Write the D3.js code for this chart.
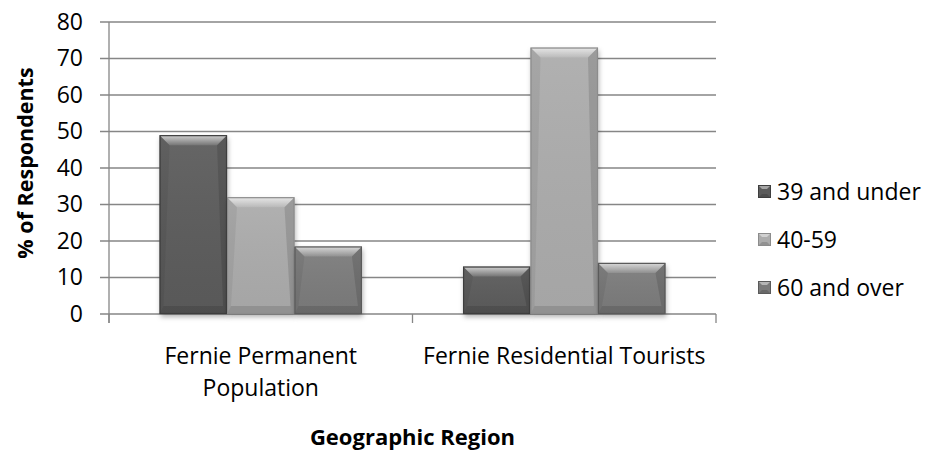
<!DOCTYPE html>
<html>
<head>
<meta charset="utf-8">
<script src="https://cdnjs.cloudflare.com/ajax/libs/d3/7.8.5/d3.min.js"></script>
<style>
  body { margin: 0; background: #fff; }
  svg text { font-family: "Open Sans", sans-serif; fill: #000; }
  .axis path { display: none; }
  .axis line { stroke: #868686; stroke-width: 1.3; }
</style>
</head>
<body>
<div id="chart"></div>
<script>
// data
var regions = ["Fernie Permanent Population", "Fernie Residential Tourists"];
var regionLines = [["Fernie Permanent", "Population"], ["Fernie Residential Tourists"]];
var ageGroups = ["39 and under", "40-59", "60 and over"];
var permanent = [49, 32, 18.5];
var tourists = [13, 73, 14];
var yTicks = [0, 10, 20, 30, 40, 50, 60, 70, 80];

var barFill = ["#5b5b5b", "#acacac", "#7b7b7b"];
var barEdge = ["#3e3e3e", "#8c8c8c", "#5a5a5a"];

var W = 928, H = 456;
var plot = {left: 109, right: 716, top: 22, bottom: 314};

var svg = d3.select("#chart").append("svg")
  .attr("width", W).attr("height", H);

var defs = svg.append("defs");
var shadow = defs.append("filter").attr("id", "shadow")
  .attr("x", "-20%").attr("y", "-20%").attr("width", "140%").attr("height", "140%");
shadow.append("feDropShadow")
  .attr("dx", 1).attr("dy", 3).attr("stdDeviation", 2.5)
  .attr("flood-color", "#000").attr("flood-opacity", 0.3);

var topGrad = defs.append("linearGradient").attr("id", "topBevel")
  .attr("x1", 0).attr("y1", 0).attr("x2", 0).attr("y2", 1);
topGrad.append("stop").attr("offset", "0%").attr("stop-color", "#fff").attr("stop-opacity", 0.7);
topGrad.append("stop").attr("offset", "100%").attr("stop-color", "#fff").attr("stop-opacity", 0.12);

var bodyGrad = defs.append("linearGradient").attr("id", "body")
  .attr("x1", 0).attr("y1", 0).attr("x2", 0).attr("y2", 1);
bodyGrad.append("stop").attr("offset", "0%").attr("stop-color", "#fff").attr("stop-opacity", 0.06);
bodyGrad.append("stop").attr("offset", "100%").attr("stop-color", "#000").attr("stop-opacity", 0.04);

var x0 = d3.scaleBand().domain(regions).range([plot.left, plot.right]).padding(0);
var x1 = d3.scaleBand().domain(ageGroups).range([0, x0.bandwidth()])
  .paddingInner(0).paddingOuter(0.75);
var y = d3.scaleLinear().domain([0, 80]).range([plot.bottom, plot.top]);

// gridlines (with the small outside ticks on the left)
svg.append("g").selectAll("line").data(yTicks).enter().append("line")
  .attr("x1", plot.left - 9).attr("x2", plot.right)
  .attr("y1", function(d) { return y(d); })
  .attr("y2", function(d) { return y(d); })
  .attr("stroke", "#868686").attr("stroke-width", 1.3);

// y axis line
svg.append("line")
  .attr("x1", plot.left).attr("x2", plot.left)
  .attr("y1", plot.top).attr("y2", plot.bottom + 9)
  .attr("stroke", "#868686").attr("stroke-width", 1.3);

// category boundary ticks under the axis
var bounds = [plot.left].concat(regions.map(function(r) { return x0(r) + x0.bandwidth(); }));
svg.append("g").selectAll("line").data(bounds).enter().append("line")
  .attr("x1", function(d) { return d; }).attr("x2", function(d) { return d; })
  .attr("y1", plot.bottom).attr("y2", plot.bottom + 9)
  .attr("stroke", "#868686").attr("stroke-width", 1.3);

// y tick labels
svg.append("g")
  .attr("class", "axis")
  .attr("transform", "translate(" + plot.left + ",0)")
  .call(d3.axisLeft(y).tickValues(yTicks).tickSize(0).tickPadding(26))
  .selectAll("text")
  .style("font-size", "23px").style("font-family", "'Open Sans', sans-serif")
  .attr("fill", "#000");

// bars
var rows = [];
regions.forEach(function(r, i) {
  var vals = i == 0 ? permanent : tourists;
  ageGroups.forEach(function(a, j) {
    rows.push({region: r, age: a, idx: j, value: vals[j]});
  });
});

function bevelBar(g, d) {
  var bx = x0(d.region) + x1(d.age), bw = x1.bandwidth();
  var by = y(d.value), bh = y(0) - y(d.value);
  var t = Math.min(10, bh / 2), s = 4, b = 8;
  g.append("rect")
    .attr("x", bx).attr("y", by).attr("width", bw).attr("height", bh)
    .attr("fill", barFill[d.idx]).attr("filter", "url(#shadow)");
  g.append("rect")
    .attr("x", bx).attr("y", by).attr("width", bw).attr("height", bh)
    .attr("fill", "url(#body)");
  // top bevel
  g.append("path")
    .attr("d", "M" + bx + "," + by + "H" + (bx + bw) + "L" + (bx + bw - t) + "," + (by + t) +
      "H" + (bx + t) + "Z")
    .attr("fill", "url(#topBevel)");
  // left bevel
  g.append("path")
    .attr("d", "M" + bx + "," + by + "L" + (bx + t) + "," + (by + t) + "L" + (bx + s) + "," + (by + bh - b) +
      "L" + bx + "," + (by + bh) + "Z")
    .attr("fill", "#000").attr("fill-opacity", 0.06);
  // right bevel
  g.append("path")
    .attr("d", "M" + (bx + bw) + "," + by + "L" + (bx + bw - t) + "," + (by + t) + "L" + (bx + bw - s) + "," + (by + bh - b) +
      "L" + (bx + bw) + "," + (by + bh) + "Z")
    .attr("fill", "#000").attr("fill-opacity", 0.12);
  // bottom bevel
  g.append("path")
    .attr("d", "M" + bx + "," + (by + bh) + "H" + (bx + bw) + "L" + (bx + bw - s) + "," + (by + bh - b) +
      "H" + (bx + s) + "Z")
    .attr("fill", "#000").attr("fill-opacity", 0.12);
  g.append("rect")
    .attr("x", bx + 0.5).attr("y", by + 0.5).attr("width", bw - 1).attr("height", bh - 1)
    .attr("fill", "none").attr("stroke", barEdge[d.idx]).attr("stroke-width", 1.2);
}

svg.append("g").selectAll("g.bar").data(rows).enter().append("g")
  .attr("class", "bar")
  .each(function(d) { bevelBar(d3.select(this), d); });

// category labels
regions.forEach(function(r, i) {
  var t = svg.append("text")
    .attr("x", x0(r) + x0.bandwidth() / 2)
    .attr("y", 364)
    .attr("text-anchor", "middle")
    .style("font-size", "23px");
  regionLines[i].forEach(function(line, k) {
    t.append("tspan")
      .attr("x", x0(r) + x0.bandwidth() / 2)
      .attr("dy", k == 0 ? 0 : 32)
      .text(line);
  });
});

// axis titles
svg.append("text")
  .attr("x", (plot.left + plot.right) / 2).attr("y", 445)
  .attr("text-anchor", "middle")
  .style("font-size", "22px").style("font-weight", "bold")
  .text("Geographic Region");

svg.append("text")
  .attr("transform", "translate(33,163) rotate(-90)")
  .attr("text-anchor", "middle")
  .style("font-size", "21.5px").style("font-weight", "bold")
  .text("% of Respondents");

// legend
var legend = svg.append("g").attr("transform", "translate(758,192)");
var li = legend.selectAll("g").data(ageGroups).enter().append("g")
  .attr("transform", function(d, i) { return "translate(0," + (i * 48) + ")"; });
li.append("rect")
  .attr("x", 0).attr("y", -7).attr("width", 13).attr("height", 13)
  .attr("fill", function(d, i) { return barFill[i]; });
li.append("path")
  .attr("d", "M0,-7H13L9,-3H4Z")
  .attr("fill", "#fff").attr("fill-opacity", 0.45);
li.append("path")
  .attr("d", "M0,6H13L9,2H4Z")
  .attr("fill", "#000").attr("fill-opacity", 0.15);
li.append("rect")
  .attr("x", 0.5).attr("y", -6.5).attr("width", 12).attr("height", 12)
  .attr("fill", "none").attr("stroke", function(d, i) { return barEdge[i]; });
li.append("text")
  .attr("x", 19).attr("y", 0).attr("dy", "0.35em")
  .style("font-size", "23px")
  .text(function(d) { return d; });
</script>
</body>
</html>
